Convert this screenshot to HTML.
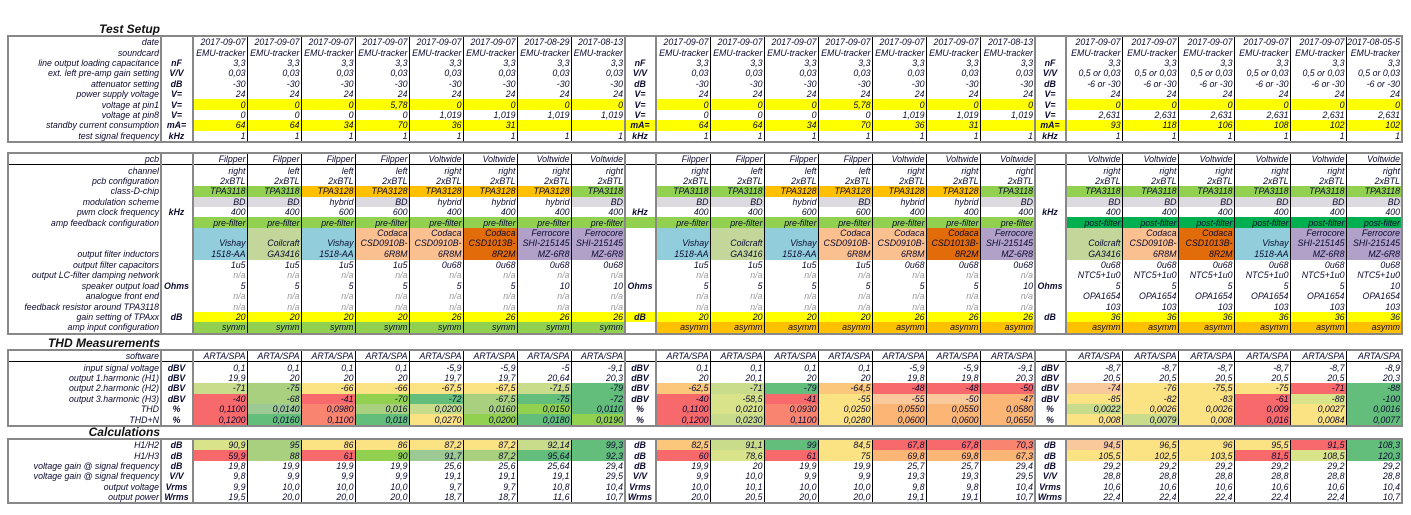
<!DOCTYPE html>
<html><head><meta charset="utf-8"><style>
body{margin:0;width:1411px;height:515px;background:#fff;position:relative;overflow:hidden;font-family:"Liberation Sans",Arial,sans-serif;}
.t{position:absolute;right:1251px;font-weight:bold;font-style:italic;font-size:12px;color:#111;white-space:nowrap}
table{position:absolute;left:7px;border-collapse:collapse;table-layout:fixed;width:1394px;border:2px solid #888;font-size:8.8px;font-style:italic;color:#0a0a30}
td{padding:0 1px 0 0;text-align:right;white-space:nowrap;overflow:hidden;border-right:1px solid #000;height:10.4px;line-height:10px;vertical-align:middle}
td.l{border-right:2px solid #888}
td.u{border-left:2px solid #888;border-right:2px solid #888;text-align:center;font-weight:bold}
tr.h td{border-bottom:1px solid #000}
.n{color:#999}
.y{background:#ff0}.g{background:#92d050}.o{background:#ffc000}.gr{background:#dcdadf}.G{background:#00b050}
.vi{background:#92cddc}.co{background:#c4d79b}.ca{background:#fac090}.cb{background:#e26b0a}.fe{background:#b1a0c7}
.R{background:#f8696b}.S{background:#f98570}.O{background:#fbb574}.P{background:#f9c89b}.A{background:#fbc77a}.Y{background:#fbe283}.L{background:#d8e38a}.K{background:#c9dc8c}.M{background:#a9d07f}.N{background:#92d050}.Q{background:#9dc995}.V{background:#63be7b}
tr.ind td{height:32px;vertical-align:bottom;line-height:10.7px;white-space:normal}
tr.ind td.l{white-space:nowrap}
</style></head><body>
<div class="t" style="top:22px">Test Setup</div>
<table style="top:35px">
<colgroup><col style="width:153px"><col style="width:32px"><col span="8" style="width:54px"><col style="width:31px"><col span="6" style="width:54px"><col style="width:55px"><col style="width:31px"><col span="6" style="width:56px"></colgroup>
<tr><td class="l">date</td><td class="u"></td><td>2017-09-07</td><td>2017-09-07</td><td>2017-09-07</td><td>2017-09-07</td><td>2017-09-07</td><td>2017-09-07</td><td>2017-08-29</td><td>2017-08-13</td><td class="u"></td><td>2017-09-07</td><td>2017-09-07</td><td>2017-09-07</td><td>2017-09-07</td><td>2017-09-07</td><td>2017-09-07</td><td>2017-08-13</td><td class="u"></td><td>2017-09-07</td><td>2017-09-07</td><td>2017-09-07</td><td>2017-09-07</td><td>2017-09-07</td><td>2017-08-05-5</td></tr>
<tr><td class="l">soundcard</td><td class="u"></td><td>EMU-tracker</td><td>EMU-tracker</td><td>EMU-tracker</td><td>EMU-tracker</td><td>EMU-tracker</td><td>EMU-tracker</td><td>EMU-tracker</td><td>EMU-tracker</td><td class="u"></td><td>EMU-tracker</td><td>EMU-tracker</td><td>EMU-tracker</td><td>EMU-tracker</td><td>EMU-tracker</td><td>EMU-tracker</td><td>EMU-tracker</td><td class="u"></td><td>EMU-tracker</td><td>EMU-tracker</td><td>EMU-tracker</td><td>EMU-tracker</td><td>EMU-tracker</td><td>EMU-tracker</td></tr>
<tr><td class="l">line output loading capacitance</td><td class="u">nF</td><td>3,3</td><td>3,3</td><td>3,3</td><td>3,3</td><td>3,3</td><td>3,3</td><td>3,3</td><td>3,3</td><td class="u">nF</td><td>3,3</td><td>3,3</td><td>3,3</td><td>3,3</td><td>3,3</td><td>3,3</td><td>3,3</td><td class="u">nF</td><td>3,3</td><td>3,3</td><td>3,3</td><td>3,3</td><td>3,3</td><td>3,3</td></tr>
<tr><td class="l">ext. left pre-amp gain setting</td><td class="u">V/V</td><td>0,03</td><td>0,03</td><td>0,03</td><td>0,03</td><td>0,03</td><td>0,03</td><td>0,03</td><td>0,03</td><td class="u">V/V</td><td>0,03</td><td>0,03</td><td>0,03</td><td>0,03</td><td>0,03</td><td>0,03</td><td>0,03</td><td class="u">V/V</td><td>0,5 or 0,03</td><td>0,5 or 0,03</td><td>0,5 or 0,03</td><td>0,5 or 0,03</td><td>0,5 or 0,03</td><td>0,5 or 0,03</td></tr>
<tr><td class="l">attenuator setting</td><td class="u">dB</td><td>-30</td><td>-30</td><td>-30</td><td>-30</td><td>-30</td><td>-30</td><td>-30</td><td>-30</td><td class="u">dB</td><td>-30</td><td>-30</td><td>-30</td><td>-30</td><td>-30</td><td>-30</td><td>-30</td><td class="u">dB</td><td>-6 or -30</td><td>-6 or -30</td><td>-6 or -30</td><td>-6 or -30</td><td>-6 or -30</td><td>-6 or -30</td></tr>
<tr><td class="l">power supply voltage</td><td class="u">V=</td><td>24</td><td>24</td><td>24</td><td>24</td><td>24</td><td>24</td><td>24</td><td>24</td><td class="u">V=</td><td>24</td><td>24</td><td>24</td><td>24</td><td>24</td><td>24</td><td>24</td><td class="u">V=</td><td>24</td><td>24</td><td>24</td><td>24</td><td>24</td><td>24</td></tr>
<tr><td class="l">voltage at pin1</td><td class="u">V=</td><td class="y">0</td><td class="y">0</td><td class="y">0</td><td class="y">5,78</td><td class="y">0</td><td class="y">0</td><td class="y">0</td><td class="y">0</td><td class="u">V=</td><td class="y">0</td><td class="y">0</td><td class="y">0</td><td class="y">5,78</td><td class="y">0</td><td class="y">0</td><td class="y">0</td><td class="u">V=</td><td class="y">0</td><td class="y">0</td><td class="y">0</td><td class="y">0</td><td class="y">0</td><td class="y">0</td></tr>
<tr><td class="l">voltage at pin8</td><td class="u">V=</td><td>0</td><td>0</td><td>0</td><td>0</td><td>1,019</td><td>1,019</td><td>1,019</td><td>1,019</td><td class="u">V=</td><td>0</td><td>0</td><td>0</td><td>0</td><td>1,019</td><td>1,019</td><td>1,019</td><td class="u">V=</td><td>2,631</td><td>2,631</td><td>2,631</td><td>2,631</td><td>2,631</td><td>2,631</td></tr>
<tr><td class="l">standby current consumption</td><td class="u">mA=</td><td class="y">64</td><td class="y">64</td><td class="y">34</td><td class="y">70</td><td class="y">36</td><td class="y">31</td><td class="y"></td><td class="y"></td><td class="u y">mA=</td><td class="y">64</td><td class="y">64</td><td class="y">34</td><td class="y">70</td><td class="y">36</td><td class="y">31</td><td class="y"></td><td class="u y">mA=</td><td class="y">93</td><td class="y">118</td><td class="y">106</td><td class="y">108</td><td class="y">102</td><td class="y">102</td></tr>
<tr><td class="l">test signal frequency</td><td class="u">kHz</td><td>1</td><td>1</td><td>1</td><td>1</td><td>1</td><td>1</td><td>1</td><td>1</td><td class="u">kHz</td><td>1</td><td>1</td><td>1</td><td>1</td><td>1</td><td>1</td><td>1</td><td class="u">kHz</td><td>1</td><td>1</td><td>1</td><td>1</td><td>1</td><td>1</td></tr>
</table>

<table style="top:152px">
<colgroup><col style="width:153px"><col style="width:32px"><col span="8" style="width:54px"><col style="width:31px"><col span="6" style="width:54px"><col style="width:55px"><col style="width:31px"><col span="6" style="width:56px"></colgroup>
<tr class="h"><td class="l">pcb</td><td class="u"></td><td>Filpper</td><td>Filpper</td><td>Filpper</td><td>Filpper</td><td>Voltwide</td><td>Voltwide</td><td>Voltwide</td><td>Voltwide</td><td class="u"></td><td>Filpper</td><td>Filpper</td><td>Filpper</td><td>Filpper</td><td>Voltwide</td><td>Voltwide</td><td>Voltwide</td><td class="u"></td><td>Voltwide</td><td>Voltwide</td><td>Voltwide</td><td>Voltwide</td><td>Voltwide</td><td>Voltwide</td></tr>
<tr><td class="l">channel</td><td class="u"></td><td>right</td><td>left</td><td>left</td><td>left</td><td>right</td><td>right</td><td>right</td><td>right</td><td class="u"></td><td>right</td><td>left</td><td>left</td><td>left</td><td>right</td><td>right</td><td>right</td><td class="u"></td><td>right</td><td>right</td><td>right</td><td>right</td><td>right</td><td>right</td></tr>
<tr><td class="l">pcb configuration</td><td class="u"></td><td>2xBTL</td><td>2xBTL</td><td>2xBTL</td><td>2xBTL</td><td>2xBTL</td><td>2xBTL</td><td>2xBTL</td><td>2xBTL</td><td class="u"></td><td>2xBTL</td><td>2xBTL</td><td>2xBTL</td><td>2xBTL</td><td>2xBTL</td><td>2xBTL</td><td>2xBTL</td><td class="u"></td><td>2xBTL</td><td>2xBTL</td><td>2xBTL</td><td>2xBTL</td><td>2xBTL</td><td>2xBTL</td></tr>
<tr><td class="l">class-D-chip</td><td class="u"></td><td class="g">TPA3118</td><td class="g">TPA3118</td><td class="o">TPA3128</td><td class="o">TPA3128</td><td class="o">TPA3128</td><td class="o">TPA3128</td><td class="o">TPA3128</td><td class="g">TPA3118</td><td class="u"></td><td class="g">TPA3118</td><td class="g">TPA3118</td><td class="o">TPA3128</td><td class="o">TPA3128</td><td class="o">TPA3128</td><td class="o">TPA3128</td><td class="g">TPA3118</td><td class="u"></td><td class="g">TPA3118</td><td class="g">TPA3118</td><td class="g">TPA3118</td><td class="g">TPA3118</td><td class="g">TPA3118</td><td class="g">TPA3118</td></tr>
<tr><td class="l">modulation scheme</td><td class="u"></td><td class="gr">BD</td><td class="gr">BD</td><td>hybrid</td><td class="gr">BD</td><td>hybrid</td><td>hybrid</td><td>hybrid</td><td class="gr">BD</td><td class="u"></td><td class="gr">BD</td><td class="gr">BD</td><td>hybrid</td><td class="gr">BD</td><td>hybrid</td><td>hybrid</td><td class="gr">BD</td><td class="u"></td><td class="gr">BD</td><td class="gr">BD</td><td class="gr">BD</td><td class="gr">BD</td><td class="gr">BD</td><td class="gr">BD</td></tr>
<tr><td class="l">pwm clock frequency</td><td class="u">kHz</td><td>400</td><td>400</td><td>600</td><td>600</td><td>400</td><td>400</td><td>400</td><td>400</td><td class="u">kHz</td><td>400</td><td>400</td><td>600</td><td>600</td><td>400</td><td>400</td><td>400</td><td class="u">kHz</td><td>400</td><td>400</td><td>400</td><td>400</td><td>400</td><td>400</td></tr>
<tr><td class="l">amp feedback configuration</td><td class="u"></td><td class="g">pre-filter</td><td class="g">pre-filter</td><td class="g">pre-filter</td><td class="g">pre-filter</td><td class="g">pre-filter</td><td class="g">pre-filter</td><td class="g">pre-filter</td><td class="g">pre-filter</td><td class="u g"></td><td class="g">pre-filter</td><td class="g">pre-filter</td><td class="g">pre-filter</td><td class="g">pre-filter</td><td class="g">pre-filter</td><td class="g">pre-filter</td><td class="g">pre-filter</td><td class="u"></td><td class="G">post-filter</td><td class="G">post-filter</td><td class="G">post-filter</td><td class="G">post-filter</td><td class="G">post-filter</td><td class="G">post-filter</td></tr>
<tr class="ind"><td class="l">output filter inductors</td><td class="u"></td><td class="vi">Vishay<br>1518-AA</td><td class="co">Coilcraft<br>GA3416</td><td class="vi">Vishay<br>1518-AA</td><td class="ca">Codaca<br>CSD0910B-<br>6R8M</td><td class="ca">Codaca<br>CSD0910B-<br>6R8M</td><td class="cb">Codaca<br>CSD1013B-<br>8R2M</td><td class="fe">Ferrocore<br>SHI-215145<br>MZ-6R8</td><td class="fe">Ferrocore<br>SHI-215145<br>MZ-6R8</td><td class="u"></td><td class="vi">Vishay<br>1518-AA</td><td class="co">Coilcraft<br>GA3416</td><td class="vi">Vishay<br>1518-AA</td><td class="ca">Codaca<br>CSD0910B-<br>6R8M</td><td class="ca">Codaca<br>CSD0910B-<br>6R8M</td><td class="cb">Codaca<br>CSD1013B-<br>8R2M</td><td class="fe">Ferrocore<br>SHI-215145<br>MZ-6R8</td><td class="u"></td><td class="co">Coilcraft<br>GA3416</td><td class="ca">Codaca<br>CSD0910B-<br>6R8M</td><td class="cb">Codaca<br>CSD1013B-<br>8R2M</td><td class="vi">Vishay<br>1518-AA</td><td class="fe">Ferrocore<br>SHI-215145<br>MZ-6R8</td><td class="fe">Ferrocore<br>SHI-215145<br>MZ-6R8</td></tr>
<tr><td class="l">output filter capacitors</td><td class="u"></td><td>1u5</td><td>1u5</td><td>1u5</td><td>1u5</td><td>0u68</td><td>0u68</td><td>0u68</td><td>0u68</td><td class="u"></td><td>1u5</td><td>1u5</td><td>1u5</td><td>1u5</td><td>0u68</td><td>0u68</td><td>0u68</td><td class="u"></td><td>0u68</td><td>0u68</td><td>0u68</td><td>0u68</td><td>0u68</td><td>0u68</td></tr>
<tr><td class="l">output LC-filter damping network</td><td class="u"></td><td class="n">n/a</td><td class="n">n/a</td><td class="n">n/a</td><td class="n">n/a</td><td class="n">n/a</td><td class="n">n/a</td><td class="n">n/a</td><td class="n">n/a</td><td class="u"></td><td class="n">n/a</td><td class="n">n/a</td><td class="n">n/a</td><td class="n">n/a</td><td class="n">n/a</td><td class="n">n/a</td><td class="n">n/a</td><td class="u"></td><td>NTC5+1u0</td><td>NTC5+1u0</td><td>NTC5+1u0</td><td>NTC5+1u0</td><td>NTC5+1u0</td><td>NTC5+1u0</td></tr>
<tr><td class="l">speaker output load</td><td class="u">Ohms</td><td>5</td><td>5</td><td>5</td><td>5</td><td>5</td><td>5</td><td>10</td><td>10</td><td class="u">Ohms</td><td>5</td><td>5</td><td>5</td><td>5</td><td>5</td><td>5</td><td>10</td><td class="u">Ohms</td><td>5</td><td>5</td><td>5</td><td>5</td><td>5</td><td>10</td></tr>
<tr><td class="l">analogue front end</td><td class="u"></td><td class="n">n/a</td><td class="n">n/a</td><td class="n">n/a</td><td class="n">n/a</td><td class="n">n/a</td><td class="n">n/a</td><td class="n">n/a</td><td class="n">n/a</td><td class="u"></td><td class="n">n/a</td><td class="n">n/a</td><td class="n">n/a</td><td class="n">n/a</td><td class="n">n/a</td><td class="n">n/a</td><td class="n">n/a</td><td class="u"></td><td>OPA1654</td><td>OPA1654</td><td>OPA1654</td><td>OPA1654</td><td>OPA1654</td><td>OPA1654</td></tr>
<tr><td class="l">feedback resistor around TPA3118</td><td class="u"></td><td class="n">n/a</td><td class="n">n/a</td><td class="n">n/a</td><td class="n">n/a</td><td class="n">n/a</td><td class="n">n/a</td><td class="n">n/a</td><td class="n">n/a</td><td class="u"></td><td class="n">n/a</td><td class="n">n/a</td><td class="n">n/a</td><td class="n">n/a</td><td class="n">n/a</td><td class="n">n/a</td><td class="n">n/a</td><td class="u"></td><td>103</td><td>103</td><td>103</td><td>103</td><td>103</td><td>103</td></tr>
<tr><td class="l">gain setting of TPAxx</td><td class="u">dB</td><td class="y">20</td><td class="y">20</td><td class="y">20</td><td class="y">20</td><td class="y">26</td><td class="y">26</td><td class="y">26</td><td class="y">26</td><td class="u y">dB</td><td class="y">20</td><td class="y">20</td><td class="y">20</td><td class="y">20</td><td class="y">26</td><td class="y">26</td><td class="y">26</td><td class="u">dB</td><td class="y">36</td><td class="y">36</td><td class="y">36</td><td class="y">36</td><td class="y">36</td><td class="y">36</td></tr>
<tr><td class="l">amp input configuration</td><td class="u"></td><td class="g">symm</td><td class="g">symm</td><td class="g">symm</td><td class="g">symm</td><td class="g">symm</td><td class="g">symm</td><td class="g">symm</td><td class="g">symm</td><td class="u"></td><td class="o">asymm</td><td class="o">asymm</td><td class="o">asymm</td><td class="o">asymm</td><td class="o">asymm</td><td class="o">asymm</td><td class="o">asymm</td><td class="u"></td><td class="o">asymm</td><td class="o">asymm</td><td class="o">asymm</td><td class="o">asymm</td><td class="o">asymm</td><td class="o">asymm</td></tr>
</table>

<div class="t" style="top:336px">THD Measurements</div>
<table style="top:349px">
<colgroup><col style="width:153px"><col style="width:32px"><col span="8" style="width:54px"><col style="width:31px"><col span="6" style="width:54px"><col style="width:55px"><col style="width:31px"><col span="6" style="width:56px"></colgroup>
<tr class="h"><td class="l">software</td><td class="u"></td><td>ARTA/SPA</td><td>ARTA/SPA</td><td>ARTA/SPA</td><td>ARTA/SPA</td><td>ARTA/SPA</td><td>ARTA/SPA</td><td>ARTA/SPA</td><td>ARTA/SPA</td><td class="u"></td><td>ARTA/SPA</td><td>ARTA/SPA</td><td>ARTA/SPA</td><td>ARTA/SPA</td><td>ARTA/SPA</td><td>ARTA/SPA</td><td>ARTA/SPA</td><td class="u"></td><td>ARTA/SPA</td><td>ARTA/SPA</td><td>ARTA/SPA</td><td>ARTA/SPA</td><td>ARTA/SPA</td><td>ARTA/SPA</td></tr>
<tr><td class="l">input signal voltage</td><td class="u">dBV</td><td>0,1</td><td>0,1</td><td>0,1</td><td>0,1</td><td>-5,9</td><td>-5,9</td><td>-5</td><td>-9,1</td><td class="u">dBV</td><td>0,1</td><td>0,1</td><td>0,1</td><td>0,1</td><td>-5,9</td><td>-5,9</td><td>-9,1</td><td class="u">dBV</td><td>-8,7</td><td>-8,7</td><td>-8,7</td><td>-8,7</td><td>-8,7</td><td>-8,9</td></tr>
<tr><td class="l">output 1.harmonic (H1)</td><td class="u">dBV</td><td>19,9</td><td>20</td><td>20</td><td>20</td><td>19,7</td><td>19,7</td><td>20,64</td><td>20,3</td><td class="u">dBV</td><td>20</td><td>20,1</td><td>20</td><td>20</td><td>19,8</td><td>19,8</td><td>20,3</td><td class="u">dBV</td><td>20,5</td><td>20,5</td><td>20,5</td><td>20,5</td><td>20,5</td><td>20,3</td></tr>
<tr><td class="l">output 2.harmonic (H2)</td><td class="u">dBV</td><td class="K">-71</td><td class="M">-75</td><td class="Y">-66</td><td class="Y">-66</td><td class="Y">-67,5</td><td class="Y">-67,5</td><td class="K">-71,5</td><td class="V">-79</td><td class="u">dBV</td><td class="A">-62,5</td><td class="K">-71</td><td class="V">-79</td><td class="A">-64,5</td><td class="R">-48</td><td class="R">-48</td><td class="R">-50</td><td class="u">dBV</td><td class="P">-74</td><td class="Y">-76</td><td class="Y">-75,5</td><td class="Y">-75</td><td class="R">-71</td><td class="V">-88</td></tr>
<tr><td class="l">output 3.harmonic (H3)</td><td class="u">dBV</td><td class="R">-40</td><td class="M">-68</td><td class="R">-41</td><td class="N">-70</td><td class="V">-72</td><td class="M">-67,5</td><td class="V">-75</td><td class="V">-72</td><td class="u">dBV</td><td class="R">-40</td><td class="L">-58,5</td><td class="R">-41</td><td class="Y">-55</td><td class="P">-55</td><td class="P">-50</td><td class="O">-47</td><td class="u">dBV</td><td class="Y">-85</td><td class="Y">-82</td><td class="Y">-83</td><td class="R">-61</td><td class="L">-88</td><td class="V">-100</td></tr>
<tr><td class="l">THD</td><td class="u">%</td><td class="R">0,1100</td><td class="Q">0,0140</td><td class="S">0,0980</td><td class="M">0,016</td><td class="K">0,0200</td><td class="M">0,0160</td><td class="N">0,0150</td><td class="V">0,0110</td><td class="u">%</td><td class="R">0,1100</td><td class="L">0,0210</td><td class="S">0,0930</td><td class="Y">0,0250</td><td class="O">0,0550</td><td class="O">0,0550</td><td class="O">0,0580</td><td class="u">%</td><td class="K">0,0022</td><td class="Y">0,0026</td><td class="Y">0,0026</td><td class="R">0,009</td><td class="Y">0,0027</td><td class="V">0,0016</td></tr>
<tr><td class="l">THD+N</td><td class="u">%</td><td class="R">0,1200</td><td class="V">0,0160</td><td class="S">0,1100</td><td class="V">0,018</td><td class="Y">0,0270</td><td class="N">0,0200</td><td class="V">0,0180</td><td class="N">0,0190</td><td class="u">%</td><td class="R">0,1200</td><td class="K">0,0230</td><td class="S">0,1100</td><td class="Y">0,0280</td><td class="O">0,0600</td><td class="O">0,0600</td><td class="O">0,0650</td><td class="u">%</td><td class="Y">0,008</td><td class="K">0,0079</td><td class="Y">0,008</td><td class="R">0,016</td><td class="Y">0,0084</td><td class="V">0,0077</td></tr>
</table>

<div class="t" style="top:425px">Calculations</div>
<table style="top:438px">
<colgroup><col style="width:153px"><col style="width:32px"><col span="8" style="width:54px"><col style="width:31px"><col span="6" style="width:54px"><col style="width:55px"><col style="width:31px"><col span="6" style="width:56px"></colgroup>
<tr><td class="l">H1/H2</td><td class="u">dB</td><td class="L">90,9</td><td class="M">95</td><td class="Y">86</td><td class="Y">86</td><td class="Y">87,2</td><td class="Y">87,2</td><td class="K">92,14</td><td class="V">99,3</td><td class="u">dB</td><td class="A">82,5</td><td class="K">91,1</td><td class="V">99</td><td class="Y">84,5</td><td class="R">67,8</td><td class="R">67,8</td><td class="S">70,3</td><td class="u">dB</td><td class="P">94,5</td><td class="Y">96,5</td><td class="Y">96</td><td class="Y">95,5</td><td class="R">91,5</td><td class="V">108,3</td></tr>
<tr><td class="l">H1/H3</td><td class="u">dB</td><td class="R">59,9</td><td class="M">88</td><td class="R">61</td><td class="N">90</td><td class="Q">91,7</td><td class="M">87,2</td><td class="V">95,64</td><td class="V">92,3</td><td class="u">dB</td><td class="R">60</td><td class="L">78,6</td><td class="R">61</td><td class="Y">75</td><td class="O">69,8</td><td class="O">69,8</td><td class="O">67,3</td><td class="u">dB</td><td class="Y">105,5</td><td class="Y">102,5</td><td class="Y">103,5</td><td class="R">81,5</td><td class="L">108,5</td><td class="V">120,3</td></tr>
<tr><td class="l">voltage gain @ signal frequency</td><td class="u">dB</td><td>19,8</td><td>19,9</td><td>19,9</td><td>19,9</td><td>25,6</td><td>25,6</td><td>25,64</td><td>29,4</td><td class="u">dB</td><td>19,9</td><td>20</td><td>19,9</td><td>19,9</td><td>25,7</td><td>25,7</td><td>29,4</td><td class="u">dB</td><td>29,2</td><td>29,2</td><td>29,2</td><td>29,2</td><td>29,2</td><td>29,2</td></tr>
<tr><td class="l">voltage gain @ signal frequency</td><td class="u">V/V</td><td>9,8</td><td>9,9</td><td>9,9</td><td>9,9</td><td>19,1</td><td>19,1</td><td>19,1</td><td>29,5</td><td class="u">V/V</td><td>9,9</td><td>10,0</td><td>9,9</td><td>9,9</td><td>19,3</td><td>19,3</td><td>29,5</td><td class="u">V/V</td><td>28,8</td><td>28,8</td><td>28,8</td><td>28,8</td><td>28,8</td><td>28,8</td></tr>
<tr><td class="l">output voltage</td><td class="u">Vrms</td><td>9,9</td><td>10,0</td><td>10,0</td><td>10,0</td><td>9,7</td><td>9,7</td><td>10,8</td><td>10,4</td><td class="u">Vrms</td><td>10,0</td><td>10,1</td><td>10,0</td><td>10,0</td><td>9,8</td><td>9,8</td><td>10,4</td><td class="u">Vrms</td><td>10,6</td><td>10,6</td><td>10,6</td><td>10,6</td><td>10,6</td><td>10,4</td></tr>
<tr><td class="l">output power</td><td class="u">Wrms</td><td>19,5</td><td>20,0</td><td>20,0</td><td>20,0</td><td>18,7</td><td>18,7</td><td>11,6</td><td>10,7</td><td class="u">Wrms</td><td>20,0</td><td>20,5</td><td>20,0</td><td>20,0</td><td>19,1</td><td>19,1</td><td>10,7</td><td class="u">Wrms</td><td>22,4</td><td>22,4</td><td>22,4</td><td>22,4</td><td>22,4</td><td>10,7</td></tr>
</table>
</body></html>
